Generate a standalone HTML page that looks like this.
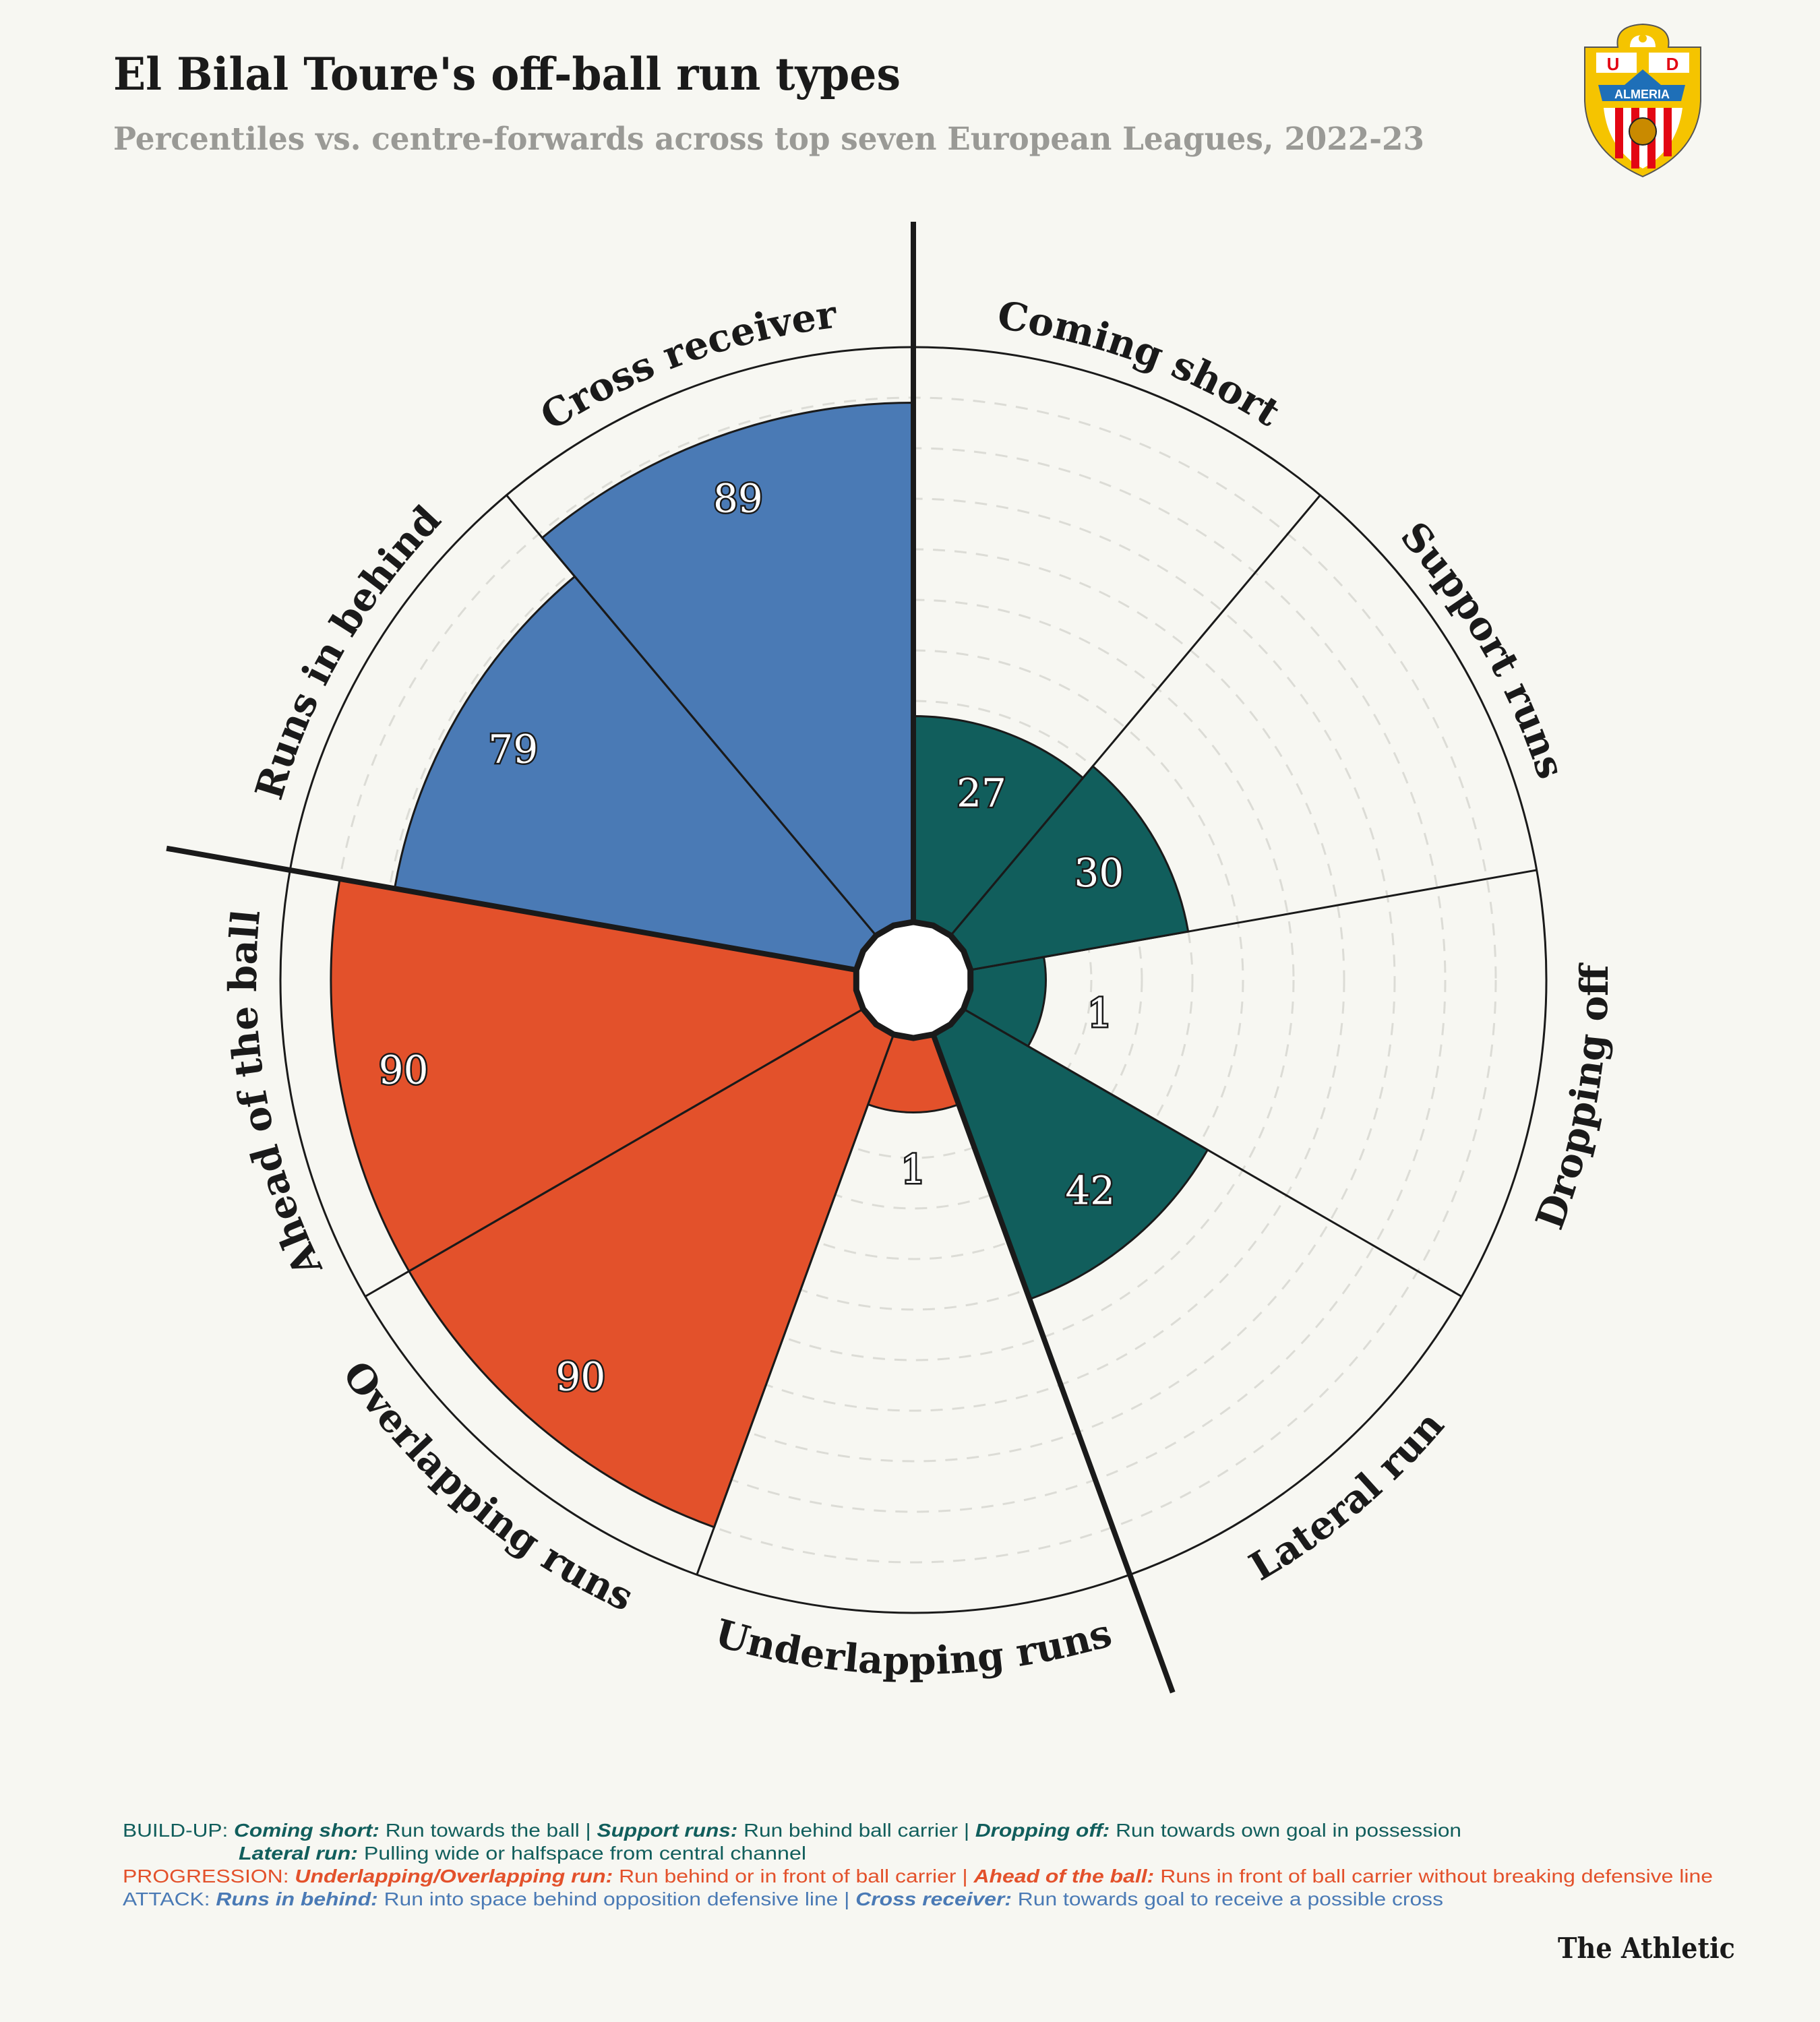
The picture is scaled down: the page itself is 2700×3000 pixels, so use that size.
<!DOCTYPE html>
<html><head><meta charset="utf-8"><style>
html,body{margin:0;padding:0;background:#f7f7f2;}
svg{display:block;}
</style></head><body>
<svg id="chart" width="2700" height="3000" viewBox="0 0 2700 3000" xmlns="http://www.w3.org/2000/svg">
<rect width="2700" height="3000" fill="#f7f7f2"/>
<text x="168" y="133" font-family="'DejaVu Serif', serif" font-weight="bold" font-size="66" fill="#1a1a1a" textLength="1168" lengthAdjust="spacingAndGlyphs">El Bilal Toure's off-ball run types</text>
<text x="168" y="222" font-family="'DejaVu Serif', serif" font-weight="bold" font-size="47" fill="#9a9a96" textLength="1945" lengthAdjust="spacingAndGlyphs">Percentiles vs. centre-forwards across top seven European Leagues, 2022-23</text>
<g id="logo">
  <path d="M2400 70 Q2395 38 2437 36 Q2480 38 2475 70 L2523 70 L2523 150 Q2520 225 2437 262 Q2354 225 2351 150 L2351 70 Z" fill="#f5c400" stroke="#555" stroke-width="2"/>
  <path d="M2418 70 Q2418 52 2437 52 Q2456 52 2456 70 Z" fill="#fff"/>
  <circle cx="2437" cy="57" r="6" fill="#f5c400"/>
  <rect x="2368" y="78" width="60" height="30" fill="#fff"/>
  <rect x="2446" y="78" width="60" height="30" fill="#fff"/>
  <text x="2393" y="104" font-family="'Liberation Sans',sans-serif" font-weight="bold" font-size="26" fill="#e30613" text-anchor="middle">U</text>
  <text x="2481" y="104" font-family="'Liberation Sans',sans-serif" font-weight="bold" font-size="26" fill="#e30613" text-anchor="middle">D</text>
  <path d="M2371 126 L2500 126 L2494 150 L2377 150 Z M2410 126 L2437 103 L2464 126 Z" fill="#1e6fb8"/>
  <text x="2436" y="146" font-family="'Liberation Sans',sans-serif" font-weight="bold" font-size="18" fill="#fff" text-anchor="middle">ALMERIA</text>
  <path d="M2379 160 L2496 160 Q2488 222 2437 250 Q2386 222 2379 160 Z" fill="#fff"/>
  <rect x="2396" y="160" width="12" height="75" fill="#e30613"/>
  <rect x="2420" y="160" width="12" height="90" fill="#e30613"/>
  <rect x="2444" y="160" width="12" height="90" fill="#e30613"/>
  <rect x="2468" y="160" width="12" height="72" fill="#e30613"/>
  <circle cx="2437" cy="195" r="20" fill="#c98a00" stroke="#222" stroke-width="2"/>
</g>
<g id="plot"></g>
<g font-family="'Liberation Sans', sans-serif" font-size="28">
  <text x="182" y="2725" fill="#115e5c" textLength="1986" lengthAdjust="spacingAndGlyphs">BUILD-UP: <tspan font-weight="bold" font-style="italic">Coming short:</tspan> Run towards the ball | <tspan font-weight="bold" font-style="italic">Support runs:</tspan> Run behind ball carrier | <tspan font-weight="bold" font-style="italic">Dropping off:</tspan> Run towards own goal in possession</text>
  <text x="354" y="2759" fill="#115e5c" textLength="842" lengthAdjust="spacingAndGlyphs"><tspan font-weight="bold" font-style="italic">Lateral run:</tspan> Pulling wide or halfspace from central channel</text>
  <text x="182" y="2793" fill="#e3512b" textLength="2359" lengthAdjust="spacingAndGlyphs">PROGRESSION: <tspan font-weight="bold" font-style="italic">Underlapping/Overlapping run:</tspan> Run behind or in front of ball carrier | <tspan font-weight="bold" font-style="italic">Ahead of the ball:</tspan> Runs in front of ball carrier without breaking defensive line</text>
  <text x="182" y="2827" fill="#4a7ab5" textLength="1959" lengthAdjust="spacingAndGlyphs">ATTACK: <tspan font-weight="bold" font-style="italic">Runs in behind:</tspan> Run into space behind opposition defensive line | <tspan font-weight="bold" font-style="italic">Cross receiver:</tspan> Run towards goal to receive a possible cross</text>
</g>
<text x="2574" y="2905" text-anchor="end" font-family="'DejaVu Serif', serif" font-weight="bold" font-size="42" fill="#1a1a1a" textLength="263" lengthAdjust="spacingAndGlyphs">The Athletic</text>
</svg>
<script>
const categories = ["Coming short","Support runs","Dropping off","Lateral run","Underlapping runs","Overlapping runs","Ahead of the ball","Runs in behind","Cross receiver"];
const values = [27,30,1,42,1,90,90,79,89];
const groups = ["build","build","build","build","prog","prog","prog","attack","attack"];
const gridTicks = [10,20,30,40,50,60,70,80,90];

const NS = "http://www.w3.org/2000/svg";
const cx = 1355, cy = 1454;
const colors = {build:"#115e5c", prog:"#e3512b", attack:"#4a7ab5"};
const rScale = v => 189 + 7.5 * v;
const Rmax = rScale(100);
const step = 360 / categories.length;
function pt(a, r){ const t = a*Math.PI/180; return [cx + r*Math.sin(t), cy - r*Math.cos(t)]; }
function mk(tag, attrs, parent){ const e = document.createElementNS(NS, tag); for (const k in attrs) e.setAttribute(k, attrs[k]); parent.appendChild(e); return e; }
const plot = document.getElementById('plot');

const bg = mk('circle', {cx:cx, cy:cy, r:Rmax, fill:'#f7f7f2', stroke:'#1a1a1a', 'stroke-width':3}, plot);



gridTicks.forEach(v => {
  const c = mk('circle', {cx:cx, cy:cy, r:rScale(v), fill:'none', stroke:'#dcdcd6', 'stroke-width':3, 'stroke-dasharray':'18 14'}, plot);
  
  
});

categories.forEach((cat, i) => {
  const a0 = i*step, a1 = (i+1)*step, r = rScale(values[i]);
  const p0 = pt(a0, r), p1 = pt(a1, r);
  const w = mk('path', {d:`M${cx},${cy} L${p0[0]},${p0[1]} A${r},${r} 0 0 1 ${p1[0]},${p1[1]} Z`, fill:colors[groups[i]], stroke:'#1a1a1a', 'stroke-width':3}, plot);
  
  
});

for (let i = 0; i < categories.length; i++) {
  const a = i*step, p = pt(a, Rmax);
  const l = mk('line', {x1:cx, y1:cy, x2:p[0], y2:p[1], stroke:'#1a1a1a', 'stroke-width':3}, plot);
  
  
}

[0, 4, 7].forEach(i => {
  const a = i*step, p = pt(a, 1125);
  const l = mk('line', {x1:cx, y1:cy, x2:p[0], y2:p[1], stroke:'#1a1a1a', 'stroke-width':8}, plot);
  
  
});

const hp = [];
for (let i = 0; i < 18; i++) { const p = pt(i*20, 86); hp.push(p[0]+','+p[1]); }
const hole = mk('polygon', {points:hp.join(' '), fill:'#ffffff', stroke:'#1a1a1a', 'stroke-width':9}, plot);



categories.forEach((cat, i) => {
  const mid = (i+0.5)*step;
  const r = Math.max(rScale(values[i]) - 96, 281);
  const p = pt(mid, r);
  const t = mk('text', {x:p[0], y:p[1]+20, 'text-anchor':'middle', 'font-family':"'DejaVu Serif', serif", 'font-size':58, fill:'#ffffff', stroke:'#1a1a1a', 'stroke-width':5, 'paint-order':'stroke'}, plot);
  t.textContent = values[i];
  
  
});

categories.forEach((cat, i) => {
  const mid = (i+0.5)*step;
  const lower = mid > 90 && mid < 255;
  const R = lower ? 1030 : 975;
  let d;
  if (!lower) { const s = pt(mid-35, R), e = pt(mid+35, R); d = `M${s[0]},${s[1]} A${R},${R} 0 0 1 ${e[0]},${e[1]}`; }
  else { const s = pt(mid+35, R), e = pt(mid-35, R); d = `M${s[0]},${s[1]} A${R},${R} 0 0 0 ${e[0]},${e[1]}`; }
  const id = 'arc' + i;
  mk('path', {id:id, d:d, fill:'none', stroke:'none'}, plot);
  const t = mk('text', {'font-family':"'DejaVu Serif', serif", 'font-weight':'bold', 'font-size':57, fill:'#1a1a1a'}, plot);
  
  
  const tp = mk('textPath', {href:'#'+id, startOffset:'50%', 'text-anchor':'middle'}, t);
  tp.textContent = cat;
});
</script>
</body></html>
